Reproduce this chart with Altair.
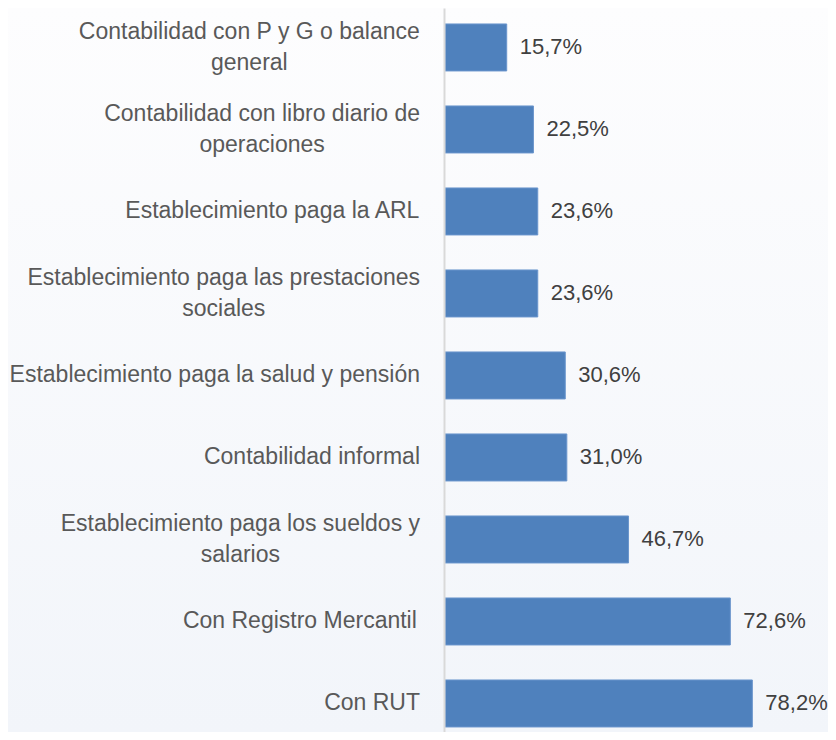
import altair as alt
import pandas as pd

categories = [
    "Contabilidad con P y G o balance\ngeneral",
    "Contabilidad con libro diario de\noperaciones",
    "Establecimiento paga la ARL",
    "Establecimiento paga las prestaciones\nsociales",
    "Establecimiento paga la salud y pensión",
    "Contabilidad informal",
    "Establecimiento paga los sueldos y\nsalarios",
    "Con Registro Mercantil ",
    "Con RUT",
]
values = [15.7, 22.5, 23.6, 23.6, 30.6, 31.0, 46.7, 72.6, 78.2]

FONT = "Liberation Sans"
FSIZE = 23
VSIZE = 22
LH = 31

# Arial advance widths (per 1000 em) used to centre multi-line label blocks
HW = {" ": 278, "a": 556, "b": 556, "c": 500, "d": 556, "e": 556, "f": 278, "g": 556,
      "h": 556, "i": 222, "j": 222, "k": 500, "l": 222, "m": 833, "n": 556, "o": 556,
      "p": 556, "q": 556, "r": 333, "s": 500, "t": 278, "u": 556, "v": 500, "w": 722,
      "x": 500, "y": 500, "z": 500, "ó": 556, "A": 667, "C": 722, "E": 667, "G": 778,
      "L": 556, "M": 833, "P": 667, "R": 722, "T": 611, "U": 722}


def line_width(s):
    return sum(HW.get(ch, 556) for ch in s) / 1000 * FSIZE


label_right = -25
df = pd.DataFrame({
    "cat": categories,
    "value": values,
    "vlabel": [f"{v:.1f}".replace(".", ",") + "%" for v in values],
    "nlines": [len(c.split("\n")) for c in categories],
})
df["cx"] = [label_right - max(line_width(l) for l in c.split("\n")) / 2 for c in categories]

W = 383
H = 724

yscale = alt.Scale(domain=categories, paddingInner=0.427, paddingOuter=0.128, align=0.76)
xscale = alt.Scale(domain=[0, 97.45], nice=False)

base = alt.Chart(df)

bg = alt.Chart(df).mark_rect(
    color=alt.LinearGradient(
        gradient="linear",
        stops=[alt.GradientStop(color="#fdfdfe", offset=0),
               alt.GradientStop(color="#f2f5fa", offset=1)],
        x1=0, x2=0, y1=0, y2=1,
    )
).encode(x=alt.value(-437), x2=alt.value(W), y=alt.value(0), y2=alt.value(H))

bars = base.mark_bar(color="#4f81bd", stroke="#6a95cc", strokeWidth=1).encode(
    y=alt.Y("cat:N", scale=yscale, sort=categories,
            axis=alt.Axis(labels=False, ticks=False, title=None, domainColor="#d9d9d9",
                          domainWidth=2, offset=1, zindex=1, grid=False)),
    x=alt.X("value:Q", scale=xscale, axis=None),
)

vtext = base.mark_text(align="left", baseline="middle", dx=13, font=FONT,
                       fontSize=VSIZE, color="#404040").encode(
    y=alt.Y("cat:N", scale=yscale, sort=categories),
    x=alt.X("value:Q", scale=xscale),
    text="vlabel:N",
)


def label_layer(n):
    return base.transform_filter(alt.datum.nlines == n).mark_text(
        align="center", baseline="middle", font=FONT, fontSize=FSIZE,
        color="#595959", lineBreak="\n", lineHeight=LH, dy=-(n - 1) * LH / 2,
    ).encode(
        y=alt.Y("cat:N", scale=yscale, sort=categories),
        x=alt.X("cx:Q", scale=None),
        text="cat:N",
    )


chart = alt.layer(bg, bars, vtext, label_layer(1), label_layer(2)).properties(
    width=W, height=H,
    autosize=alt.AutoSizeParams(type="none"),
    padding={"left": 437, "top": 0, "right": 0, "bottom": 0},
    background="#f7f9fc",
).configure_view(stroke=None)

chart.save("out.html", embed_options={"renderer": "svg", "actions": False})
